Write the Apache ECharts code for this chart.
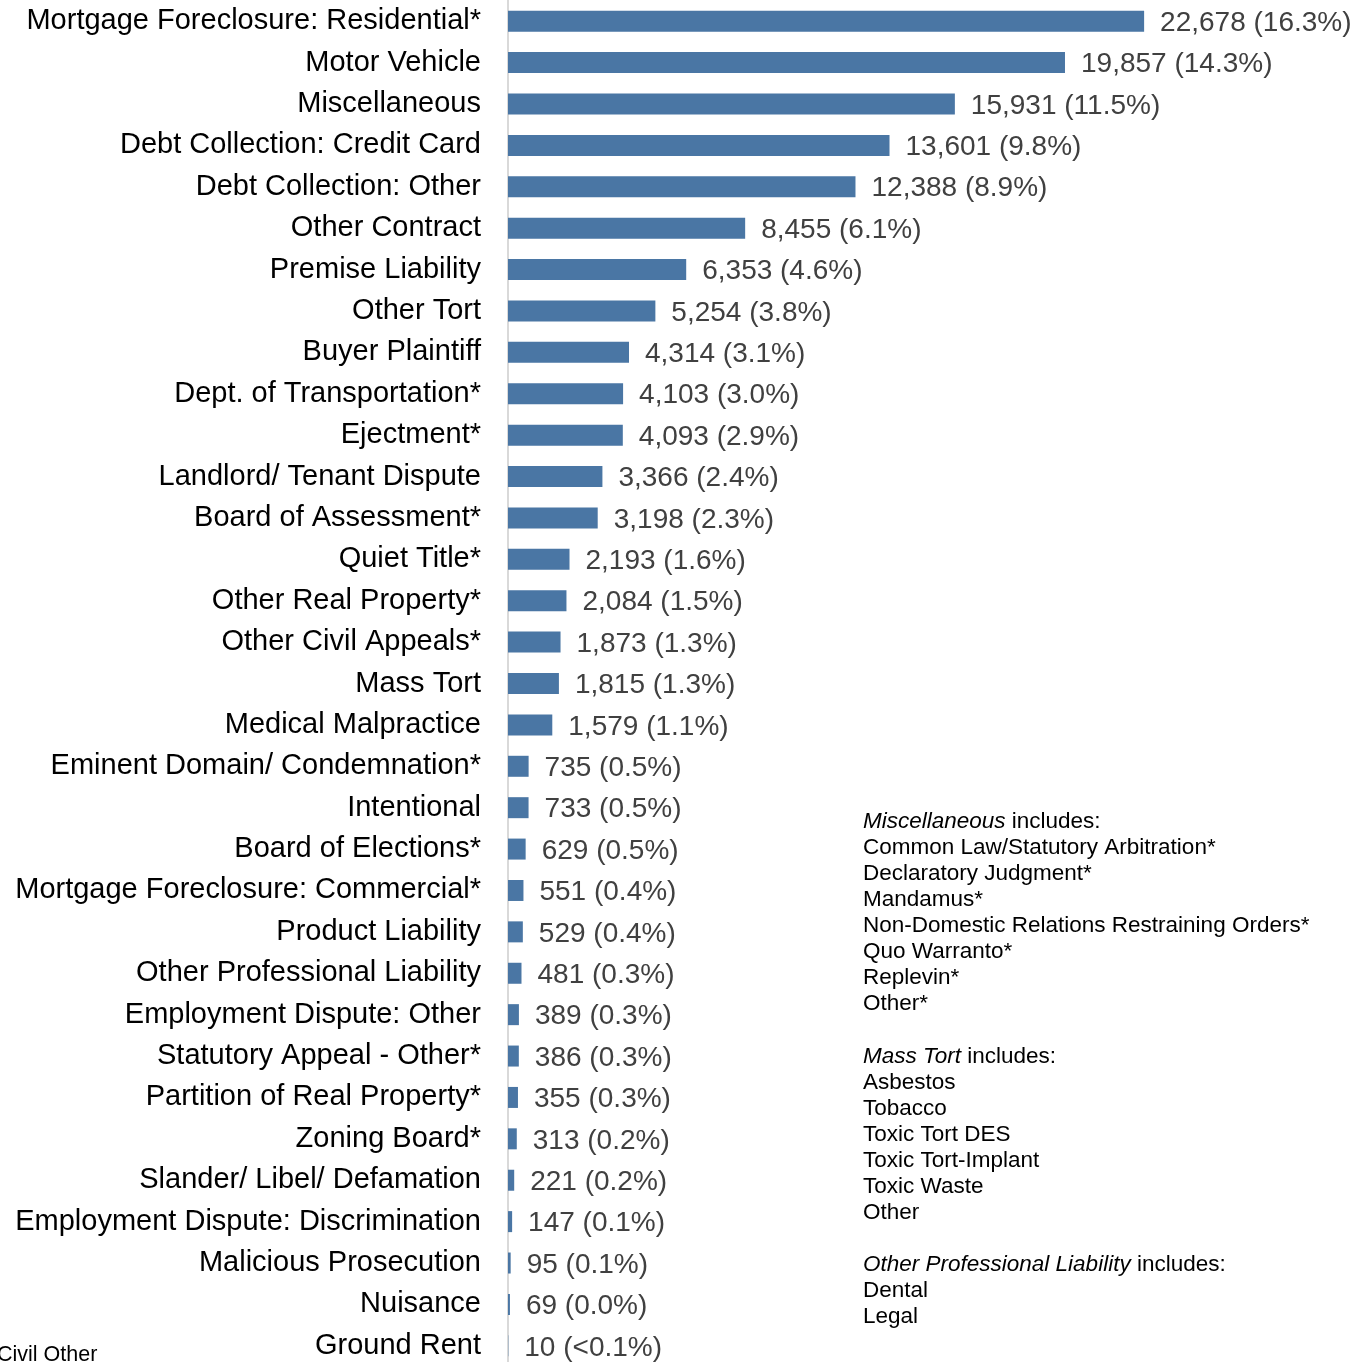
<!DOCTYPE html>
<html>
<head>
<meta charset="utf-8">
<script src="https://cdn.jsdelivr.net/npm/echarts@6/dist/echarts.min.js"></script>
<style>
  html, body { margin: 0; padding: 0; background: #fff; overflow: hidden; }
  #chart { width: 1368px; height: 1372px; }
</style>
</head>
<body>
<div id="chart"></div>
<script>
// case types, largest first
const categories = [
  'Mortgage Foreclosure: Residential*', 'Motor Vehicle', 'Miscellaneous',
  'Debt Collection: Credit Card', 'Debt Collection: Other', 'Other Contract',
  'Premise Liability', 'Other Tort', 'Buyer Plaintiff', 'Dept. of Transportation*',
  'Ejectment*', 'Landlord/ Tenant Dispute', 'Board of Assessment*', 'Quiet Title*',
  'Other Real Property*', 'Other Civil Appeals*', 'Mass Tort', 'Medical Malpractice',
  'Eminent Domain/ Condemnation*', 'Intentional', 'Board of Elections*',
  'Mortgage Foreclosure: Commercial*', 'Product Liability', 'Other Professional Liability',
  'Employment Dispute: Other', 'Statutory Appeal - Other*', 'Partition of Real Property*',
  'Zoning Board*', 'Slander/ Libel/ Defamation', 'Employment Dispute: Discrimination',
  'Malicious Prosecution', 'Nuisance', 'Ground Rent'
];
const counts = [
  22678, 19857, 15931, 13601, 12388, 8455, 6353, 5254, 4314, 4103,
  4093, 3366, 3198, 2193, 2084, 1873, 1815, 1579, 735, 733,
  629, 551, 529, 481, 389, 386, 355, 313, 221, 147,
  95, 69, 10
];
const shares = [
  '16.3%', '14.3%', '11.5%', '9.8%', '8.9%', '6.1%', '4.6%', '3.8%', '3.1%', '3.0%',
  '2.9%', '2.4%', '2.3%', '1.6%', '1.5%', '1.3%', '1.3%', '1.1%', '0.5%', '0.5%',
  '0.5%', '0.4%', '0.4%', '0.3%', '0.3%', '0.3%', '0.3%', '0.2%', '0.2%', '0.1%',
  '0.1%', '0.0%', '<0.1%'
];
const miscItems = [
  'Common Law/Statutory Arbitration*', 'Declaratory Judgment*', 'Mandamus*',
  'Non-Domestic Relations Restraining Orders*', 'Quo Warranto*', 'Replevin*', 'Other*'
];
const massTortItems = ['Asbestos', 'Tobacco', 'Toxic Tort DES', 'Toxic Tort-Implant', 'Toxic Waste', 'Other'];
const profItems = ['Dental', 'Legal'];

const FONT = '"Liberation Sans", Arial, sans-serif';

// 注释块
const noteBlock = (title, items, top) => ({
  type: 'text',
  left: 863,
  top: top,
  style: {
    text: ['{i|' + title + '} includes:'].concat(items).join('\n'),
    font: '22.5px ' + FONT,
    fill: '#000',
    lineHeight: 26,
    rich: {
      i: { fontStyle: 'italic', fontSize: 22.5, fontFamily: FONT, fill: '#000', lineHeight: 26 }
    }
  }
});

const chart = echarts.init(document.getElementById('chart'));
chart.setOption({
  animation: false,
  grid: { left: 508, top: 0.5, width: 841.5, height: 1366 },
  xAxis: {
    type: 'value', min: 0, max: 30000,
    show: false
  },
  yAxis: {
    type: 'category',
    data: categories,
    inverse: true,
    axisLine: { show: true, lineStyle: { color: '#d9d9d9', width: 2 } },
    axisTick: { show: false },
    axisLabel: { margin: 27, fontSize: 29, fontFamily: FONT, color: '#000', padding: [4, 0, 0, 0] }
  },
  series: [{
    type: 'bar',
    data: counts,
    barWidth: 21,
    itemStyle: { color: '#4a76a4' },
    label: {
      show: true,
      position: 'right',
      distance: 16,
      offset: [0, 2],
      fontSize: 28,
      fontFamily: FONT,
      color: '#404040',
      formatter: (p) => p.value.toLocaleString('en-US') + ' (' + shares[p.dataIndex] + ')'
    }
  }],
  graphic: [
    noteBlock('Miscellaneous', miscItems, 809),
    noteBlock('Mass Tort', massTortItems, 1044),
    noteBlock('Other Professional Liability', profItems, 1252),
    {
      type: 'text', left: -3, top: 1344,
      style: { text: 'Civil Other', font: '21.5px ' + FONT, fill: '#000' }
    }
  ]
});
</script>
</body>
</html>
